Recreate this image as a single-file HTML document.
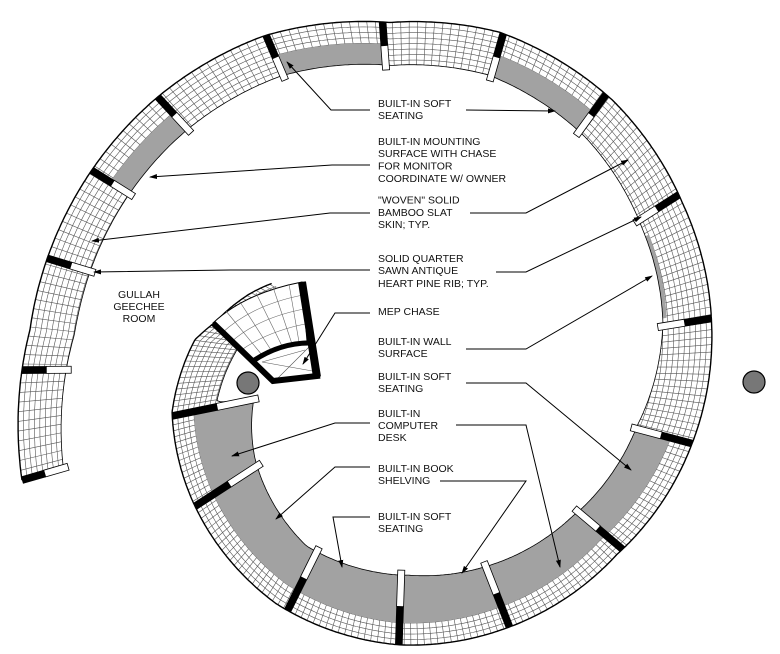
<!DOCTYPE html>
<html><head><meta charset="utf-8"><style>
html,body{margin:0;padding:0;background:#fff;}
svg{display:block;}
text{font-family:"Liberation Sans",Arial,sans-serif;font-size:10.5px;fill:#111;}
</style></head><body>
<svg id="s" width="780" height="654" viewBox="0 0 780 654" xmlns="http://www.w3.org/2000/svg">
<defs>
<marker id="ar" markerWidth="8" markerHeight="6" refX="7" refY="3" orient="auto" markerUnits="userSpaceOnUse">
<path d="M0,0.5 L8,3 L0,5.5 Z" fill="#000"/></marker>
<clipPath id="bandclip"><path id="bandpathc" d=""/></clipPath>
</defs>
<rect width="780" height="654" fill="#fff"/>
<g id="spiral"></g>

<!-- top inner piece / MEP chase -->
<g>
<path d="M213,323 Q245,293 302,282 L307,341 Q276,343 255,361 Z" fill="#fff" stroke="#000" stroke-width="1"/>
<g stroke="#666" stroke-width="0.6" fill="none">
<path d="M222,333 Q252,305 303,295"/><path d="M231,342 Q258,318 304,309"/><path d="M240,351 Q266,332 305,324"/>
<line x1="226" y1="311" x2="262" y2="355"/><line x1="240" y1="302" x2="271" y2="350"/><line x1="256" y1="293" x2="282" y2="346"/><line x1="273" y1="287" x2="292" y2="344"/><line x1="289" y1="284" x2="299" y2="342"/>
</g>
<path d="M262,362 L318,372 M276,380 L310,346 M262,362 L305,350" stroke="#555" stroke-width="0.6" fill="none"/>
<path d="M213,323 L273,381 L317,376 L302,282" stroke="#000" stroke-width="6" fill="none" stroke-linejoin="miter"/>
<line x1="302" y1="282" x2="317" y2="377" stroke="#000" stroke-width="8"/>
<path d="M253,361 Q280,343 309,343" stroke="#000" stroke-width="5" fill="none"/>
</g>
<circle cx="248" cy="383" r="11" fill="#777" stroke="#000" stroke-width="1.2"/>
<circle cx="754" cy="382" r="11" fill="#777" stroke="#000" stroke-width="1.2"/>

<!-- leaders -->
<g stroke="#000" stroke-width="1" fill="none">
<polyline points="466,110 555,111" marker-end="url(#ar)"/>
<polyline points="370,110 331,110 287,62" marker-end="url(#ar)"/>
<polyline points="370,165 332,165 150,177" marker-end="url(#ar)"/>
<polyline points="370,213 330,213 92,241" marker-end="url(#ar)"/>
<polyline points="470,213 526,213 628,160" marker-end="url(#ar)"/>
<polyline points="370,270 230,270 94,272" marker-end="url(#ar)"/>
<polyline points="496,272 526,272 641,217" marker-end="url(#ar)"/>
<polyline points="370,313 335,313 303,364" marker-end="url(#ar)"/>
<polyline points="466,349 526,349 652,276" marker-end="url(#ar)"/>
<polyline points="466,383 526,383 631,470" marker-end="url(#ar)"/>
<polyline points="370,423 335,423 232,456" marker-end="url(#ar)"/>
<polyline points="456,425 526,425 560,567" marker-end="url(#ar)"/>
<polyline points="370,467 335,467 276,519" marker-end="url(#ar)"/>
<polyline points="440,481 526,481 462,573" marker-end="url(#ar)"/>
<polyline points="370,517 333,517 342,567" marker-end="url(#ar)"/>
</g>

<!-- labels -->
<g>
<text x="378" y="107">BUILT-IN SOFT</text><text x="378" y="119">SEATING</text>
<text x="378" y="145">BUILT-IN MOUNTING</text><text x="378" y="157">SURFACE WITH CHASE</text><text x="378" y="169.5">FOR MONITOR</text><text x="378" y="182">COORDINATE W/ OWNER</text>
<text x="378" y="203.5">"WOVEN" SOLID</text><text x="378" y="216">BAMBOO SLAT</text><text x="378" y="228">SKIN; TYP.</text>
<text x="378" y="262">SOLID QUARTER</text><text x="378" y="274">SAWN ANTIQUE</text><text x="378" y="287">HEART PINE RIB; TYP.</text>
<text x="378" y="315">MEP CHASE</text>
<text x="378" y="345">BUILT-IN WALL</text><text x="378" y="357">SURFACE</text>
<text x="378" y="380">BUILT-IN SOFT</text><text x="378" y="392">SEATING</text>
<text x="378" y="417">BUILT-IN</text><text x="378" y="429">COMPUTER</text><text x="378" y="441">DESK</text>
<text x="378" y="472">BUILT-IN BOOK</text><text x="378" y="484">SHELVING</text>
<text x="378" y="520">BUILT-IN SOFT</text><text x="378" y="532">SEATING</text>
<text x="139" y="298" text-anchor="middle">GULLAH</text><text x="139" y="310" text-anchor="middle">GEECHEE</text><text x="139" y="322" text-anchor="middle">ROOM</text>
</g>
</svg>
<script>
(function(){
var cx=408,cy=368;
var RT=[[163.8,402],[185.7,380],[227,369],[246.5,362],[267,346],[285.3,348],[307.3,337],[329.3,320],[351.4,307],[374.8,294],[401.8,280],[430.6,278],[451.7,277],[479.3,270],[508.6,253],[529.4,240],[547.5,215],[553.4,198],[565,175],[572,160]];
var WT=[[163,43],[190,45],[270,43],[350,49],[374,58],[400,58],[450,70],[480,65],[510,75],[528,83],[530,45],[553,45],[572,40]];
function lerp(T,t){if(t<=T[0][0])return T[0][1];for(var i=0;i<T.length-1;i++){if(t<=T[i+1][0]){var a=T[i],b=T[i+1];return a[1]+(b[1]-a[1])*(t-a[0])/(b[0]-a[0]);}}return T[T.length-1][1];}
function R(t){return lerp(RT,t);} function W(t){return lerp(WT,t);}
function P(t,r){var a=t*Math.PI/180;return (cx+r*Math.cos(a)).toFixed(1)+","+(cy+r*Math.sin(a)).toFixed(1);}
var t0=163.8,t1=572,st=0.5;
function curve(a,b,f){var p=[];for(var t=a;t<=b+1e-6;t+=st)p.push(P(t,f(t)));return p;}
var out=curve(t0,t1,function(t){return R(t);});
var inn=curve(t0,t1,function(t){return R(t)-W(t);}).reverse();
var band="M"+out.join(" L")+" L"+inn.join(" L")+" Z";
document.getElementById("bandpathc").setAttribute("d",band);
var h="";
h+='<path d="'+band+'" fill="#fff"/>';
h+='<g clip-path="url(#bandclip)" stroke="#555" stroke-width="0.6" fill="none">';
for(var d=5.5;d<90;d+=5.5){h+='<polyline points="'+curve(t0,t1,function(t){return R(t)-d;}).join(" ")+'"/>';}
for(var t=t0;t<=t1;t+=1.4){h+='<line x1="'+P(t,R(t)).split(",")[0]+'" y1="'+P(t,R(t)).split(",")[1]+'" x2="'+P(t,R(t)-W(t)-2).split(",")[0]+'" y2="'+P(t,R(t)-W(t)-2).split(",")[1]+'"/>';}
h+='</g>';
var gray=[[212,227.3],[246.9,265.8],[285.9,305.9],[374.9,528.5]];
gray.forEach(function(g){
 var o=curve(g[0],g[1],function(t){return R(t)-22;});
 var i=curve(g[0],g[1],function(t){return R(t)-W(t);}).reverse();
 h+='<polygon points="'+o.join(" ")+' '+i.join(" ")+'" fill="#a2a2a2"/>';
});
var o2=curve(331,349,function(t){return R(t)-W(t)+4;}),i2=curve(331,349,function(t){return R(t)-W(t);}).reverse();
h+='<polygon points="'+o2.join(" ")+' '+i2.join(" ")+'" fill="#a2a2a2"/>';
h+='<polyline points="'+out.join(" ")+'" fill="none" stroke="#000" stroke-width="1.4"/>';
h+='<polyline points="'+inn.join(" ")+'" fill="none" stroke="#000" stroke-width="0.8"/>';
var divs=[163.8,179.7,196.9,212,227.3,246.9,265.8,285.9,305.9,327.4,350.7,374.9,400.2,428.6,451.9,476.4,507,528.5];
divs.forEach(function(t){
 var r=R(t),w=W(t);if(t>528)w=83;
 var lb=Math.max(20,w*0.55);
 h+='<g transform="translate('+cx+','+cy+') rotate('+t+')">';
 h+='<rect x="'+(r-w-5)+'" y="-3.5" width="'+(w+5-lb)+'" height="7" fill="#fff" stroke="#000" stroke-width="0.8"/>';
 h+='<rect x="'+(r-lb)+'" y="-3.8" width="'+lb+'" height="7.6" fill="#000"/>';
 h+='</g>';
});
document.getElementById("spiral").innerHTML=h;
})();
</script>
</body></html>
